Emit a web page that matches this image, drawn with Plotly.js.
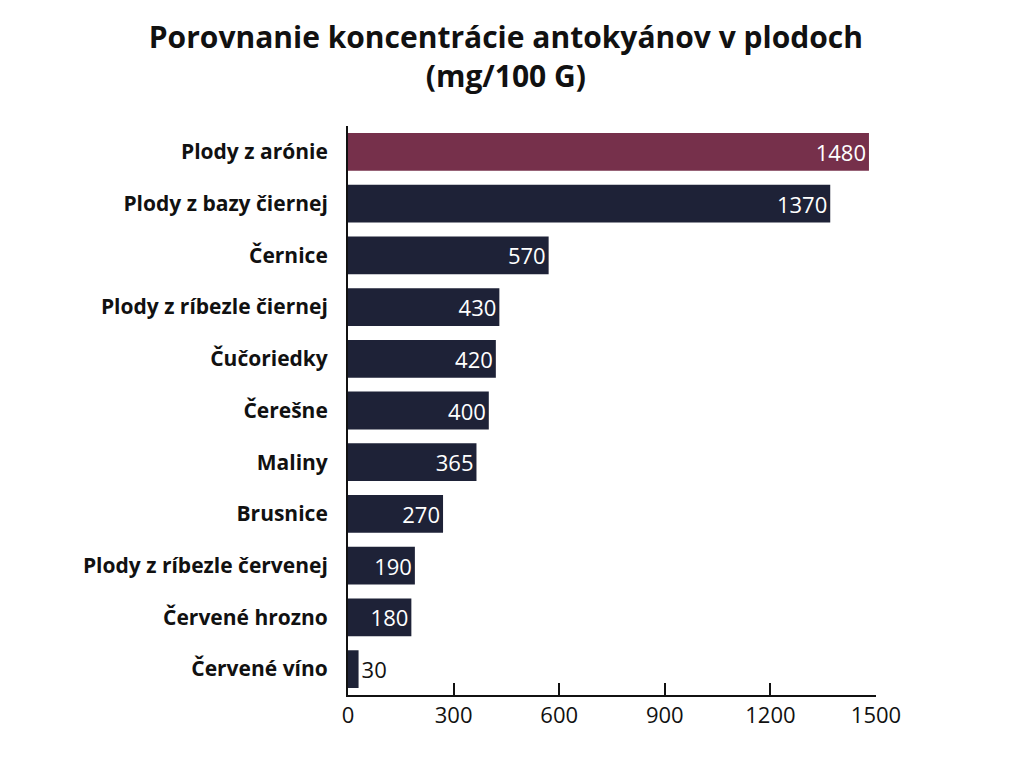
<!DOCTYPE html>
<html>
<head>
<meta charset="utf-8">
<script src="https://cdn.plot.ly/plotly-3.0.1.min.js"></script>
<style>html,body{margin:0;padding:0;background:#fff;}#chart{width:1024px;height:768px;}</style>
</head>
<body>
<div id="chart"></div>
<script>
const categories = ["Plody z arónie","Plody z bazy čiernej","Černice","Plody z ríbezle čiernej","Čučoriedky","Čerešne","Maliny","Brusnice","Plody z ríbezle červenej","Červené hrozno","Červené víno"];
const values = [1480,1370,570,430,420,400,365,270,190,180,30];
const barColors = ["#76304b","#1e2237","#1e2237","#1e2237","#1e2237","#1e2237","#1e2237","#1e2237","#1e2237","#1e2237","#1e2237"];
const tickValues = [0,300,600,900,1200,1500];
const titleText = "Porovnanie koncentrácie antokyánov v plodoch<br>(mg/100 G)";

const textPos = values.map(v => v >= 100 ? "inside" : "outside");
const textCol = values.map(v => v >= 100 ? "#ffffff" : "#111111");

const trace = {
  type: "bar",
  orientation: "h",
  y: categories,
  x: values,
  text: values.map(String),
  textposition: textPos,
  insidetextanchor: "end",
  textangle: 0,
  cliponaxis: false,
  textfont: {family: "Open Sans, sans-serif", size: 22, color: textCol},
  marker: {color: barColors, line: {width: 0}},
  hoverinfo: "none"
};

const layout = {
  width: 1024, height: 768,
  paper_bgcolor: "#ffffff", plot_bgcolor: "#ffffff",
  margin: {l: 348, r: 148, t: 126, b: 73},
  bargap: 0.27,
  showlegend: false,
  title: {
    text: titleText,
    x: 0.494, xanchor: "center", y: 0.938, yanchor: "middle",
    font: {family: "Open Sans, sans-serif", size: 30, color: "#111111", weight: 700}
  },
  xaxis: {
    range: [0, 1500],
    tickvals: tickValues,
    ticktext: tickValues.map(String),
    ticks: "inside", ticklen: 12, tickwidth: 2, tickcolor: "#111",
    showline: true, linecolor: "#111", linewidth: 2,
    showgrid: false, zeroline: false,
    tickfont: {family: "Open Sans, sans-serif", size: 22, color: "#111"},
    fixedrange: true
  },
  yaxis: {
    autorange: "reversed",
    showline: true, linecolor: "#111", linewidth: 2,
    showgrid: false, zeroline: false,
    ticks: "", ticklabelstandoff: 14,
    tickfont: {family: "Open Sans, sans-serif", size: 21, color: "#111", weight: 700},
    fixedrange: true
  }
};

Plotly.newPlot("chart", [trace], layout, {staticPlot: true, displayModeBar: false});
</script>
</body>
</html>
